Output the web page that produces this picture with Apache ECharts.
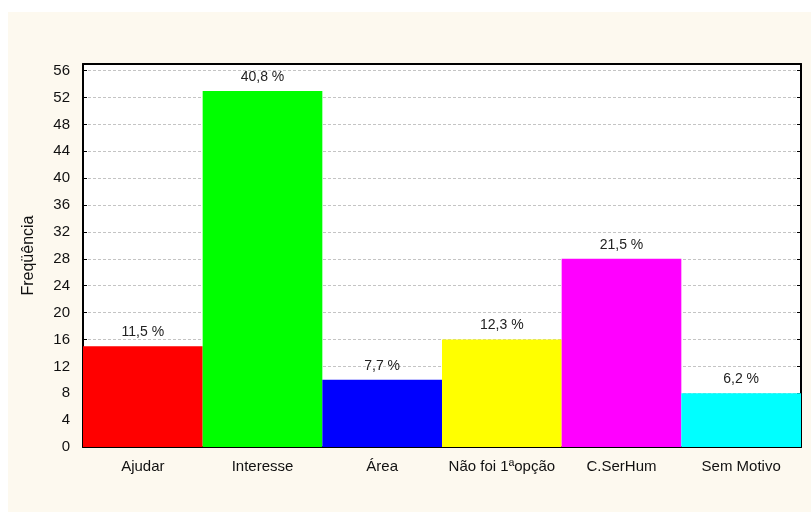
<!DOCTYPE html>
<html>
<head>
<meta charset="utf-8">
<script src="https://cdn.jsdelivr.net/npm/echarts@6/dist/echarts.min.js"></script>
<style>
  html, body { margin: 0; padding: 0; background: #ffffff; }
  #chart { width: 811px; height: 512px; }
</style>
</head>
<body>
<div id="chart"></div>
<script>
  // data
  const categories = ['Ajudar', 'Interesse', 'Área', 'Não foi 1ªopção', 'C.SerHum', 'Sem Motivo']
  const counts = [15, 53, 10, 16, 28, 8]
  const percentLabels = ['11,5 %', '40,8 %', '7,7 %', '12,3 %', '21,5 %', '6,2 %']
  const barColors = ['#ff0000', '#00ff00', '#0000ff', '#ffff00', '#ff00ff', '#00ffff']

  const font = 'Arial, "Liberation Sans", sans-serif'
  const chart = echarts.init(document.getElementById('chart'))

  const option = {
    backgroundColor: '#ffffff',
    animation: false,
    graphic: [{
      type: 'rect',
      z: -10,
      shape: { x: 8, y: 12, width: 803, height: 500 },
      style: { fill: '#fdf9ef' },
    }],
    grid: {
      left: 83,
      right: 10,
      top: 64,
      bottom: 65,
      show: true,
      backgroundColor: '#ffffff',
      borderWidth: 0,
    },
    xAxis: [{
      type: 'category',
      data: categories,
      position: 'bottom',
      axisLine: { onZero: false, lineStyle: { color: '#000', width: 2 } },
      axisTick: { inside: true, length: 4, lineStyle: { color: '#000' } },
      axisLabel: { interval: 0, color: '#111', fontFamily: font, fontSize: 15, margin: 12 },
    }, {
      type: 'category',
      data: categories,
      position: 'top',
      axisLine: { onZero: false, lineStyle: { color: '#000', width: 2 } },
      axisTick: { inside: true, length: 4, lineStyle: { color: '#000' } },
      axisLabel: { show: false },
    }],
    yAxis: [{
      type: 'value',
      min: 0,
      max: 57,
      interval: 4,
      name: 'Freqüência',
      nameLocation: 'middle',
      nameGap: 46,
      nameTextStyle: { color: '#111', fontFamily: font, fontSize: 16 },
      axisLine: { show: true, lineStyle: { color: '#000', width: 2 } },
      axisTick: { show: true, inside: true, length: 4, lineStyle: { color: '#000' } },
      axisLabel: { color: '#111', fontFamily: font, fontSize: 15, margin: 13, showMaxLabel: false },
      splitLine: { lineStyle: { color: '#c4c4c4', type: [3, 2], width: 1 } },
    }, {
      type: 'value',
      min: 0,
      max: 57,
      interval: 4,
      position: 'right',
      axisLine: { show: true, lineStyle: { color: '#000', width: 2 } },
      axisTick: { show: true, inside: true, length: 4, lineStyle: { color: '#000' } },
      axisLabel: { show: false },
      splitLine: { show: false },
    }],
    series: [{
      type: 'bar',
      barCategoryGap: 0,
      data: counts.map((v, i) => ({ value: v, itemStyle: { color: barColors[i] } })),
      label: {
        show: true,
        position: 'top',
        distance: 7,
        color: '#222',
        fontFamily: font,
        fontSize: 14,
        formatter: p => percentLabels[p.dataIndex],
      },
    }],
  }
  chart.setOption(option)
</script>
</body>
</html>
